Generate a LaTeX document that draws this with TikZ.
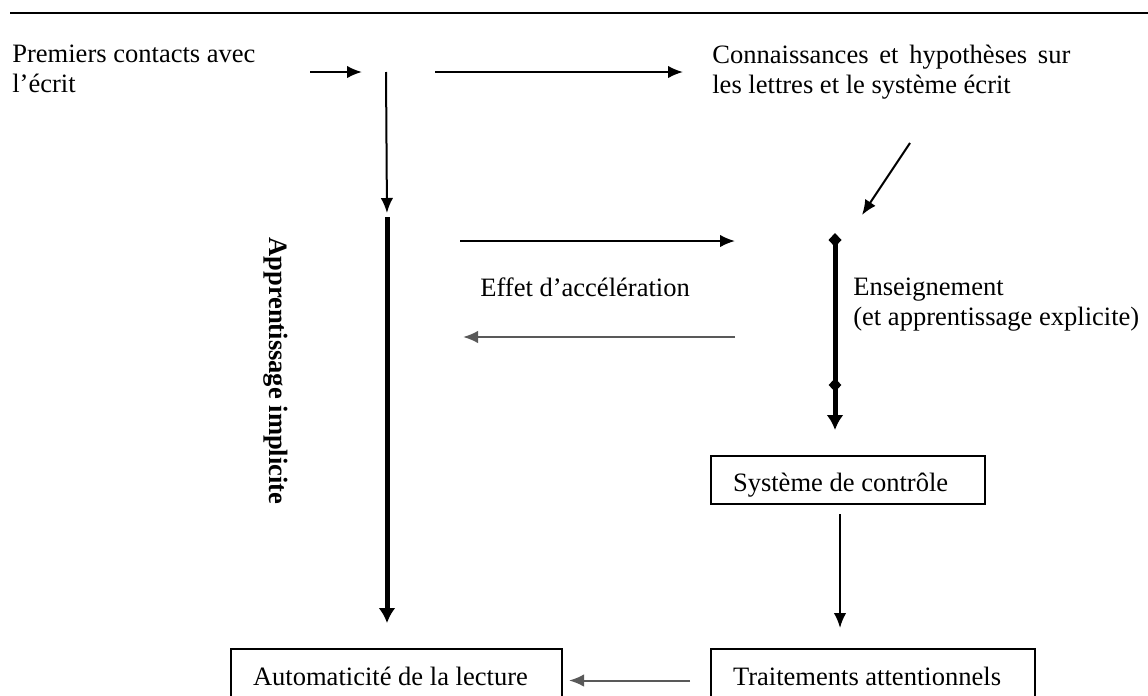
\documentclass[tikz,border=0pt]{standalone}
\usepackage{fontspec}
\setmainfont{Liberation Serif}
\usetikzlibrary{arrows.meta,shapes.geometric}

\begin{document}
\begin{tikzpicture}[x=0.2mm, y=-0.2mm,
    every node/.style={font=\fontsize{15.1pt}{16.8pt}\selectfont, inner sep=0pt},
    flow/.style={line width=0.4mm, -{Latex[length=3mm, width=2.5mm]}},
    back/.style={flow, draw=black!65},
    heavy/.style={line width=1mm, -{Latex[length=3mm, width=3.4mm]}},
    knot/.style={diamond, fill, inner sep=0pt, minimum width=2.6mm, minimum height=2.8mm},
    box/.style={draw, line width=0.4mm, anchor=north west, align=flush left,
                inner xsep=4.4mm, inner ysep=0pt, text height=7.2mm, text depth=2.6mm}]

  \useasboundingbox (0,0) rectangle (1148,695);
  \draw[line width=0.35mm] (10,13) -- (1148,13);

  % texts
  \node[anchor=north west, align=left] (premiers) at (12,45) {Premiers contacts avec\\l’écrit};
  \node[anchor=north west, text width=71.6mm, align=justify] (connais) at (712,45)
    {Connaissances et hypothèses sur les lettres et le système écrit};
  \node[anchor=base west] (effet) at (480,296) {Effet d’accélération};
  \node[anchor=north west, align=left] (enseign) at (853,278) {Enseignement\\(et apprentissage explicite)};
  \node[rotate=-90, anchor=base west] (implicite) at (269,237) {\bfseries Apprentissage implicite};

  % boxes
  \node[box, text width=46mm, text height=7mm] (ctrl) at (710,455) {Système de contrôle};
  \node[box, text width=57.4mm] (auto) at (230,648) {Automaticité de la lecture};
  \node[box, text width=56mm] (trait) at (710,648) {Traitements attentionnels};

  % arrow ends
  \coordinate (entry) at (310,72);
  \coordinate (entryend) at (362,72);
  \coordinate (fork) at (386,72);
  \coordinate (impl) at (387,217);
  \coordinate (forkright) at (435,72);
  \coordinate (conntip) at (683,72);
  \coordinate (diagstart) at (910,143);
  \coordinate (diagtip) at (862,215);
  \coordinate (ens) at (835,233);
  \coordinate (accstart) at (460,241);
  \coordinate (accend) at (735,241);
  \coordinate (retstart) at (735,337);
  \coordinate (retend) at (463,337);

  % top row
  \draw[flow] (entry) -- (entryend);
  \draw[flow, shorten >=0.8mm] (fork) -- (impl);
  \draw[flow] (forkright) -- (conntip);
  \draw[flow] (diagstart) -- (diagtip);

  % implicit learning
  \draw[heavy, shorten >=5mm] (impl) -- (impl |- auto.north);

  % acceleration effect
  \draw[flow] (accstart) -- (accend);
  \draw[back] (retstart) -- (retend);

  % teaching
  \draw[heavy, shorten >=5mm, {Diamond[length=2.8mm, width=2.6mm]}-{Latex[length=3mm, width=3.4mm]}]
    (ens) -- (ens |- ctrl.north);
  \node[knot] (mid) at (835,385) {};

  % bottom
  \draw[flow, shorten <=1.8mm, shorten >=4mm] ([xshift=-1.6mm]ctrl.south) -- ([xshift=-1.6mm]ctrl.south |- trait.north);
  \draw[back, shorten <=4mm, shorten >=1.2mm] ([yshift=-1.4mm]trait.west) -- ([yshift=-1.4mm]auto.east);

\end{tikzpicture}
\end{document}
